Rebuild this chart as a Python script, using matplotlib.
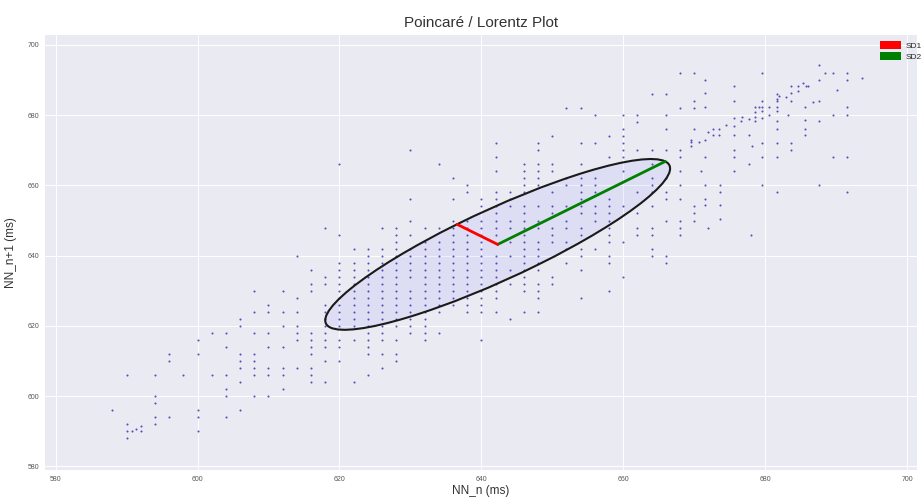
import matplotlib
matplotlib.use("Agg")
import matplotlib.pyplot as plt
from matplotlib.patches import Ellipse, Patch
import numpy as np

# ---------------- data ----------------
# Grid-quantised RR pairs: each row is (NN_n+1 value, list of NN_n values)
rows_upper = [
    (692, [668, 670]),
    (686, [664, 666]),
    (684, [670]),
    (682, [652, 654, 668, 670]),
    (680, [656, 660, 662, 666]),
    (678, [662]),
    (676, [660, 666, 670]),
    (674, [650, 658, 660]),
    (672, [642, 648, 654, 656, 660]),
    (670, [630, 648, 660, 662, 664, 666, 668]),
    (668, [642, 658, 660, 668]),
    (666, [620, 634, 646, 648, 650, 654, 664]),
    (664, [642, 646, 648, 650, 660, 668]),
    (662, [636, 646, 648, 652, 654, 656, 664, 666]),
    (660, [638, 646, 648, 652, 654, 656, 664, 668]),
    (658, [638, 642, 644, 646, 650, 654, 656, 662, 664, 666]),
    (656, [630, 636, 640, 642, 644, 654, 658, 666, 668]),
    (654, [640, 642, 644, 646, 648, 650, 652, 654, 656, 658, 660, 664, 670]),
    (652, [642, 646, 650, 654, 656, 658, 662, 670]),
    (650, [630, 636, 638, 640, 642, 644, 646, 648, 652, 656, 658, 666, 668, 670]),
    (648, [618, 626, 628, 632, 634, 636, 638, 640, 642, 644, 646, 648, 650, 652,
           654, 658, 662, 664, 668, 672]),
    (646, [620, 628, 630, 636, 638, 640, 642, 646, 650, 654, 658, 662, 664, 668, 678]),
    (644, [628, 632, 634, 636, 638, 640, 644, 646, 648, 650, 652, 658, 660]),
    (642, [622, 624, 626, 628, 630, 632, 634, 636, 638, 640, 646, 648, 652, 654, 656, 664]),
]
rows_middle = [
    (640, [614, 624, 626, 628, 630, 632, 634, 636, 638, 640, 642, 644, 646, 648,
           654, 658, 664, 666]),
    (638, [620, 622, 624, 626, 628, 630, 632, 634, 636, 638, 640, 642, 646, 648,
           652, 658, 666]),
    (636, [616, 620, 622, 624, 626, 628, 630, 632, 634, 636, 638, 640, 642, 644,
           646, 648, 654]),
    (634, [618, 620, 622, 624, 626, 628, 630, 632, 634, 636, 638, 640, 642, 646,
           650, 660]),
    (632, [616, 618, 620, 622, 624, 626, 628, 632, 634, 636, 638, 640, 642, 644,
           646, 648, 650]),
    (630, [608, 612, 616, 620, 622, 624, 626, 628, 630, 632, 634, 636, 638, 640,
           642, 646, 648, 658]),
    (628, [614, 620, 622, 624, 626, 628, 630, 632, 634, 636, 638, 640, 642, 648, 654]),
    (626, [610, 618, 620, 622, 624, 626, 628, 630, 632, 634, 636, 638, 640]),
    (624, [608, 610, 612, 614, 618, 620, 622, 624, 626, 628, 630, 632, 634, 638,
           640, 642, 646, 648]),
    (622, [606, 618, 620, 622, 624, 626, 628, 630, 632, 644]),
    (620, [606, 612, 614, 618, 620, 622, 624, 626, 628, 630, 632]),
]
rows_lower = [
    (618, [602, 604, 608, 610, 614, 616, 618, 624, 626, 630, 632, 634]),
    (616, [600, 614, 616, 618, 620, 622, 624, 626, 628, 632, 640]),
    (614, [604, 610, 612, 616, 618, 620, 624]),
    (612, [596, 600, 606, 608, 616, 624, 626, 628]),
    (610, [596, 606, 608, 618, 620, 628]),
    (608, [606, 608, 610, 612, 614, 616, 626]),
    (606, [590, 594, 598, 602, 604, 608, 610, 612, 616, 624]),
    (604, [606, 616, 618, 622]),
    (602, [604, 612]),
    (600, [594, 604, 608, 610]),
    (598, [594]),
    (596, [588, 600, 606]),
    (594, [594, 596, 600, 604]),
    (592, [590, 594]),
    (590, [590, 592, 600]),
    (588, [590]),
]

# Off-grid points (dense diagonal band at the top right and bottom-left cluster)
band_x = [687.6, 679.6, 688.4, 689.6, 691.6, 671.5, 687.6, 691.6, 693.6, 675.6,
          683.6, 684.6, 685.3, 685.7, 686.1, 690.1, 671.5, 681.6, 683.6, 684.6,
          682.0, 675.6, 679.6, 681.6, 681.6, 683.0, 683.6, 686.7, 687.6, 678.6,
          679.2, 679.6, 680.6, 681.6, 685.6, 691.6, 671.5, 679.6, 678.6, 675.6,
          676.7, 677.7, 678.6, 679.6, 680.6, 681.6, 683.2, 685.6, 687.6, 689.6,
          691.6, 674.5, 673.5, 672.6, 672.6, 673.5, 671.9, 675.6, 676.6, 678.6,
          681.6, 685.6, 681.6, 671.5, 675.6, 677.7, 685.6, 678.2, 679.6, 681.6,
          683.6, 671.5, 675.6, 679.6, 681.6, 689.6, 691.6, 675.6, 683.6, 677.7,
          671.0, 675.6, 671.5, 673.6, 679.6, 687.6, 673.6, 681.6, 691.6, 671.5,
          671.5, 673.6, 673.6, 669.6, 669.6, 669.6, 670.7, 590.7, 591.3, 592.0]
band_y = [694.2, 692.1, 692.1, 692.1, 692.1, 690.1, 690.1, 690.1, 690.5, 688.2,
          688.2, 688.2, 689.0, 688.2, 688.2, 687.1, 686.2, 686.0, 686.2, 686.8,
          685.5, 684.1, 684.1, 684.6, 683.9, 685.1, 684.1, 683.6, 684.1, 682.4,
          682.2, 682.2, 682.2, 682.2, 682.2, 682.2, 682.2, 681.1, 681.0, 679.2,
          679.6, 678.9, 679.6, 679.2, 680.1, 681.1, 680.1, 678.7, 678.2, 680.1,
          680.1, 677.3, 676.1, 676.1, 674.2, 674.2, 675.1, 677.0, 678.2, 678.2,
          678.2, 676.1, 676.1, 673.0, 674.2, 674.2, 674.2, 671.3, 672.0, 672.0,
          672.0, 668.0, 668.0, 668.0, 668.0, 668.0, 668.0, 670.1, 670.1, 666.1,
          664.1, 664.1, 660.0, 660.0, 660.0, 660.0, 658.0, 658.0, 658.0, 656.0,
          654.3, 654.3, 650.5, 673.0, 672.3, 671.1, 672.3, 590.0, 590.8, 591.5]

# Poincaré descriptors (ms)
center_x = 642.3
center_y = 643.2
sd1 = 8.1
sd2 = 33.4

# ---------------- assemble ----------------
nn_n, nn_n1 = [], []
for rows in (rows_upper, rows_middle, rows_lower):
    for yv, xs in rows:
        for xv in xs:
            nn_n.append(xv)
            nn_n1.append(yv)
nn_n += band_x
nn_n1 += band_y

# ---------------- plot ----------------
plt.style.use("seaborn-v0_8-darkgrid")
plt.rcParams["font.family"] = ["Liberation Sans", "DejaVu Sans"]

fig = plt.figure(figsize=(9.22, 4.97), dpi=100)
ax = fig.add_axes([45 / 922, 27 / 497, (917 - 45) / 922, (470 - 35) / 497])
ax.set_facecolor("#EAEAF2")
ax.grid(True, color="white", lw=0.7)

ax.scatter(nn_n, nn_n1, s=2.2, c="#2a2aa8", alpha=0.8, linewidths=0, zorder=3)

ell = Ellipse((center_x, center_y), width=2 * sd2, height=2 * sd1, angle=45,
              facecolor=(0.3, 0.3, 1.0, 0.08), edgecolor="#1a1a1a", lw=1.5, zorder=4)
ax.add_patch(ell)

c45 = np.cos(np.pi / 4)
ax.plot([center_x, center_x + sd2 * c45], [center_y, center_y + sd2 * c45],
        color="green", lw=2, zorder=5)
ax.plot([center_x, center_x - sd1 * c45], [center_y, center_y + sd1 * c45],
        color="red", lw=2, zorder=5)

ax.set_xlim(578.5, 701.4)
ax.set_ylim(579.0, 702.8)
ax.set_xticks(np.arange(580, 701, 20))
ax.set_yticks(np.arange(580, 701, 20))
ax.tick_params(axis="both", labelsize=5, colors="#555555", length=0, pad=4)

ax.set_title("Poincaré / Lorentz Plot", fontsize=11, color="#333333", pad=6)
ax.set_xlabel("NN_n (ms)", fontsize=8.5, color="#333333", labelpad=2)
ax.set_ylabel("NN_n+1 (ms)", fontsize=8.5, color="#333333", labelpad=8)

handles = [Patch(facecolor="red", label="SD1"), Patch(facecolor="green", label="SD2")]
ax.legend(handles=handles, loc="upper right", bbox_to_anchor=(1.012, 1.0),
          fontsize=6, frameon=False, handlelength=2.6, handleheight=1.2,
          borderaxespad=0.3, labelspacing=0.2, handletextpad=0.5)

fig.savefig("out.png", dpi=100)
